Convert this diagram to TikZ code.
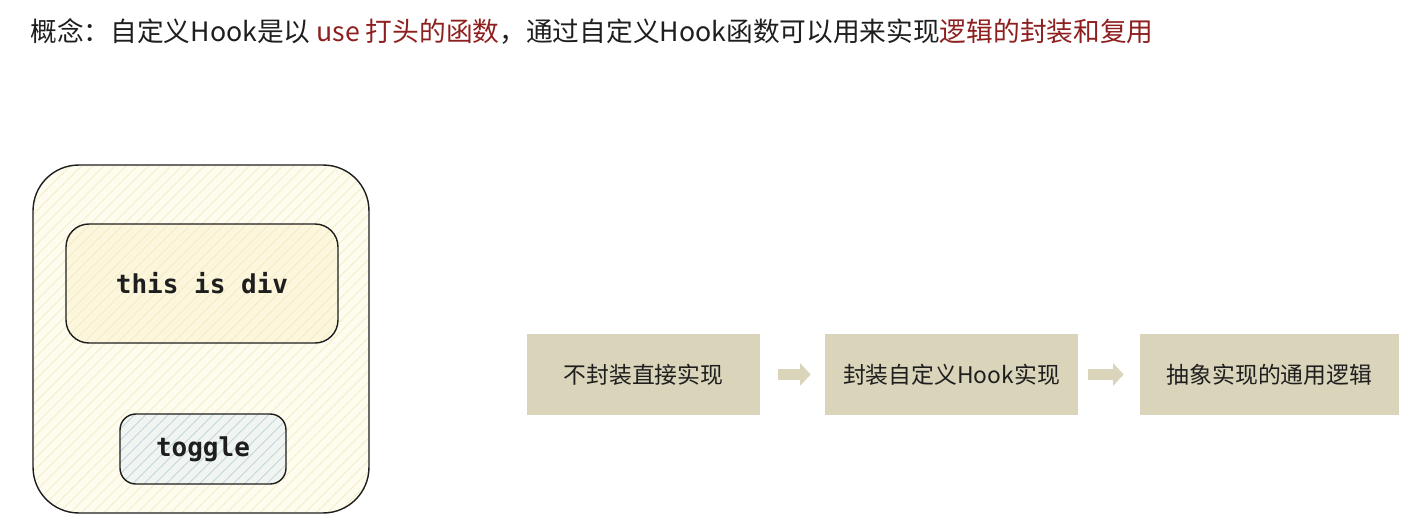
\documentclass[tikz,border=0pt]{standalone}
\usepackage{fontspec}
\newfontfamily\cjk{Noto Sans CJK SC}
\newfontfamily\codefont{DejaVu Sans Mono}
\usetikzlibrary{patterns.meta,arrows.meta}
\definecolor{outerfill}{HTML}{FEFCEE}
\definecolor{outerhatch}{HTML}{F3EEC9}
\definecolor{divfill}{HTML}{FCF6DC}
\definecolor{divhatch}{HTML}{F5ECC6}
\definecolor{togglefill}{HTML}{F1F5F1}
\definecolor{togglehatch}{HTML}{C3D5DC}
\definecolor{stepfill}{HTML}{D9D4BA}
\definecolor{keyred}{HTML}{8E1F1F}
\definecolor{ink}{HTML}{1E1E1E}
\begin{document}
\begin{tikzpicture}[x=0.02cm,y=-0.02cm,
    hatchbox/.style args={#1/#2}{draw=ink,line width=0.8pt,
      preaction={fill=#1},pattern={Lines[angle=45,distance=4.5pt,line width=0.5pt]},pattern color=#2},
    codetext/.style={font=\codefont\bfseries\fontsize{14.8}{16}\selectfont,text=ink},
    stepbox/.style={fill=stepfill,minimum height=1.62cm,inner sep=0pt,
      font=\cjk\fontsize{13}{15}\selectfont,text=ink},
    flowarrow/.style={draw=stepfill,line width=6.3pt,line cap=butt,
      -{Triangle[length=6pt,width=12.5pt]},shorten <=0.36cm,shorten >=0.28cm}]
      \useasboundingbox (0,0) rectangle (1405,527);
      % title
      \node[anchor=west,inner sep=0pt,font=\cjk\fontsize{15.2}{17}\selectfont,text=ink] (title) at (30,31)
        {概念：自定义Hook是以 \textcolor{keyred}{use 打头的函数}，通过自定义Hook函数可以用来实现\textcolor{keyred}{逻辑的封装和复用}};
      % component sketch
      \node[hatchbox=outerfill/outerhatch,rounded corners=26pt,minimum width=6.72cm,minimum height=6.96cm] (outer) at (201,339) {};
      \node[hatchbox=divfill/divhatch,rounded corners=13pt,minimum width=5.44cm,minimum height=2.38cm,codetext] (div) at (202,283.5) {this is div};
      \node[hatchbox=togglefill/togglehatch,rounded corners=9pt,minimum width=3.32cm,minimum height=1.4cm,codetext] (toggle) at (203,449) {toggle};
      % steps
      \node[stepbox,minimum width=4.66cm] (plain) at (643.5,374.5) {不封装直接实现};
      \node[stepbox,minimum width=5.06cm] (hook) at (951.5,374.5) {封装自定义Hook实现};
      \node[stepbox,minimum width=5.18cm] (logic) at (1269.5,374.5) {抽象实现的通用逻辑};
      \draw[flowarrow] (plain) -- (hook);
      \draw[flowarrow,shorten <=0.2cm,shorten >=0.32cm] (hook) -- (logic);
    \end{tikzpicture}
\end{document}
